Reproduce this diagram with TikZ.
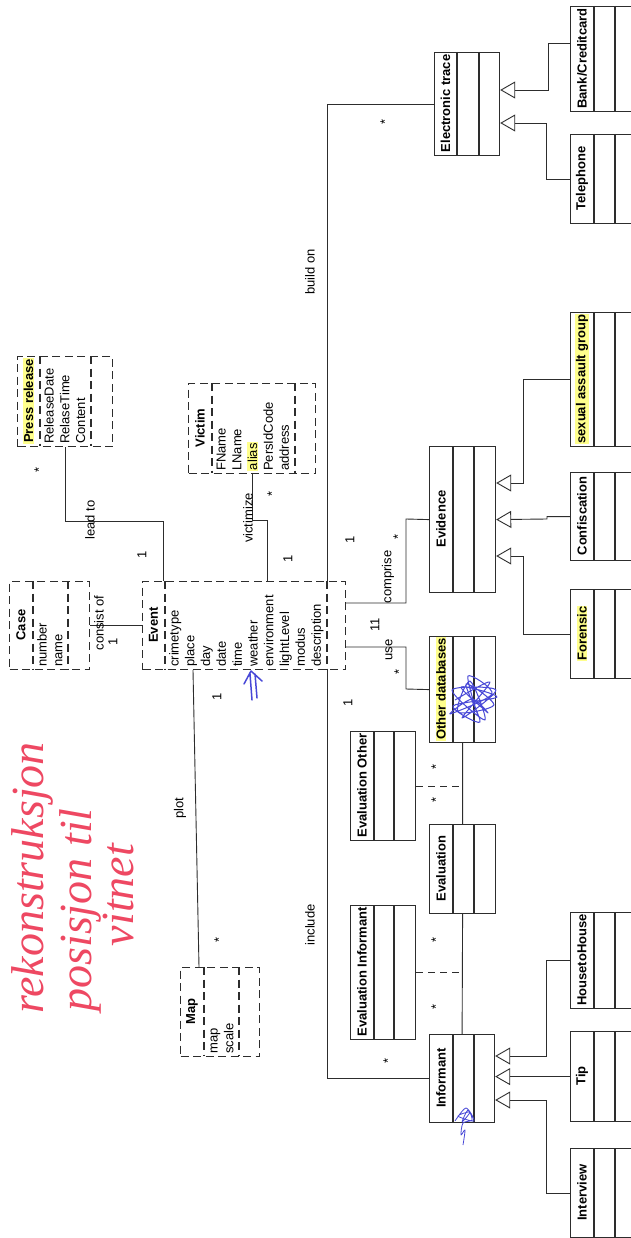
\documentclass[tikz,border=0pt]{standalone}
\usepackage{fontspec}
\setmainfont{Liberation Sans}
\newfontfamily\handfont{Liberation Serif}
\usetikzlibrary{arrows.meta,positioning}
\definecolor{lineg}{RGB}{45,45,45}
\definecolor{hl}{RGB}{255,255,140}
\definecolor{pen}{RGB}{238,72,98}
\definecolor{ink}{RGB}{72,72,215}
\setlength{\fboxsep}{0.8pt}

\begin{document}
\begin{tikzpicture}[
  x=1pt, y=-1pt,
  every node/.style={font=\fontsize{13}{15.8}\selectfont},
  cls/.style={draw=lineg, line width=1.2pt, inner sep=0, anchor=north west},
  dcls/.style={cls, dash pattern=on 8pt off 4.5pt},
  ttl/.style={rotate=90, inner sep=0.7pt, font=\fontsize{13}{15.8}\selectfont\bfseries},
  attr/.style={rotate=90, anchor=north west, inner sep=0, align=left},
  lbl/.style={rotate=90, inner sep=0},
  link/.style={draw=lineg, line width=0.9pt},
  isa/.style={link, -{Triangle[open, length=15pt, width=17pt]}},
]
\useasboundingbox (0,0) rectangle (631,1238);
\clip (0,0) rectangle (631,1238);
\fill[white] (0,0) rectangle (631,1238);

% dashed classes: name/left/top/right/bottom/head line/ops line/title/fill
\foreach \n/\xa/\ya/\xb/\yb/\xh/\xo/\t/\f in {
  case/9/581/89/669/33/68/Case/none,
  event/142/581/345/669/165/327/Event/none,
  press/17/356/112/446/40/91/Press release/hl,
  victim/188/383/315/473/212/295/Victim/none,
  map/180/967/259/1056/204/239/Map/none}
{
  \node[dcls, minimum width={(\xb-\xa)*1pt}, minimum height={(\yb-\ya)*1pt}] (\n) at (\xa,\ya) {};
  \draw[lineg, line width=1.2pt, dash pattern=on 8pt off 4.5pt]
    (\xh,\ya) -- (\xh,\yb) (\xo,\ya) -- (\xo,\yb);
  \node[ttl, fill=\f] (\n-t) at ({(\xa+\xh)/2},{(\ya+\yb)/2}) {\t};
}

% solid classes
\foreach \n/\xa/\ya/\xb/\yb/\xh/\xo/\t/\f in {
  etrace/434/52/499/155/457/479/Electronic trace/none,
  evidence/429/446/495/592/453/474/Evidence/none,
  otherdb/429/636/495/742/453/474/Other databases/hl,
  evaluation/429/824/495/913/453/474/Evaluation/none,
  informant/429/1034/494/1122/453/474/Informant/none,
  evalother/350/731/415/840/374/394/Evaluation Other/none,
  evalinf/350/905/415/1039/374/394/Evaluation Informant/none,
  bank/570/6/636/111/594/615/{Bank/Creditcard}/none,
  telephone/570/134/636/223/594/615/Telephone/none,
  sexual/570/312/636/446/594/615/sexual assault group/hl,
  confiscation/570/472/636/560/594/615/Confiscation/none,
  forensic/570/589/636/678/594/615/Forensic/hl,
  house/570/912/636/1008/594/615/HousetoHouse/none,
  tip/570/1031/636/1121/594/615/Tip/none,
  interview/570/1148/636/1237/594/615/Interview/none}
{
  \node[cls, minimum width={(\xb-\xa)*1pt}, minimum height={(\yb-\ya)*1pt}] (\n) at (\xa,\ya) {};
  \draw[lineg, line width=1.2pt] (\xh,\ya) -- (\xh,\yb) (\xo,\ya) -- (\xo,\yb);
  \node[ttl, fill=\f] (\n-t) at ({(\xa+\xh)/2},{(\ya+\yb)/2}) {\t};
}

% attribute lists
\foreach \n/\xh/\yb/\a in {
  case/33/669/{number\\name},
  event/165/669/{crimetype\\place\\day\\date\\time\\weather\\environment\\lightLevel\\modus\\description},
  press/40/446/{ReleaseDate\\RelaseTime\\Content},
  victim/212/473/{FName\\LName\\\colorbox{hl}{alias}\\PersIdCode\\address},
  map/204/1056/{map\\scale}}
  \node[attr] (\n-a) at (\xh+2.3,\yb-2) {\strut\a};

% associations
\draw[link] (case.east) -- (event.west);
\draw[link] (press.south -| 65,0) |- (163,521) -- (event.north -| 163,0);
\draw[link] (victim.south -| 252,0) |- (267,520) -- (event.north -| 267,0);
\draw[link] (etrace.west |- 0,104) -| (event.north -| 327,0);
\draw[link] (event.south -| 327,0) |- (informant.west);
\draw[link] (event.south -| 193,0) -- (map.north -| 199,0);
\draw[link] (event.east |- 0,603) -| (406,519) -- (evidence.west);
\draw[link] (event.east |- 0,647) -| (406,689) -- (otherdb.west);
\draw[link] (otherdb.south) -- (evaluation.north) (evaluation.south) -- (informant.north);
\draw[link, dash pattern=on 7pt off 5pt] (evalother.east) -- (evalother.east -| evaluation.north);
\draw[link, dash pattern=on 7pt off 5pt] (evalinf.east) -- (evalinf.east -| evaluation.north);

% generalisations
\draw[isa] (sexual.west) -| (523,483) -- (evidence.east |- 0,483);
\draw[isa] (confiscation.west) -| (547,519) -- (evidence.east);
\draw[isa] (forensic.west) -| (523,556) -- (evidence.east |- 0,556);
\draw[isa] (bank.west |- 0,43) -| (548,90) -- (etrace.east |- 0,90);
\draw[isa] (telephone.west) -| (546,123) -- (etrace.east |- 0,123);
\draw[isa] (house.west) -| (546,1056) -- (informant.east |- 0,1056);
\draw[isa] (tip.west) -- (informant.east |- tip.west);
\draw[isa] (interview.west) -| (546,1100) -- (informant.east |- 0,1100);

% role names and multiplicities
\foreach \n/\x/\y/\t in {
  consist/99/623/consist of, m1/113/642/1,
  leadto/90/520/lead to, m2/39/470/*, m3/142/555/1,
  victimize/248/518/victimize, m4/272/494/*, m5/288/559/1,
  buildon/310/272/build on, m6/385/122/*, m7/350/540/1,
  comprise/388/577/comprise, m8/398/537/*, m9/375/625/11,
  use/389/650/use, m10/399/672/*, m11/348/703/1,
  include/310/925/include, m12/388/1061/*,
  plot/180/808/plot, m13/217/697/1, m14/219/940/*,
  m15/436/767/*, m16/436/800/*, m17/436/940/*, m18/436/1007/*}
  \node[lbl] (\n) at (\x,\y) {\t};

% handwritten note
\begin{scope}[every node/.style={rotate=90, text=pen, inner sep=0,
    font=\handfont\itshape\fontsize{46}{46}\selectfont}]
  \node (note1) at (32,878) {rekonstruksjon};
  \node (note2) at (80,910) {posisjon til};
  \node (note3) at (118,895) {vitnet};
\end{scope}

% pen marks
\draw[ink, line width=1.5pt, line cap=round, line join=round]
  (252,700) -- (250,674) (257,698) -- (255,674) (244,684) -- (251,671) -- (262,681);
\draw[ink, line width=1pt, line join=round] plot[smooth] coordinates {
  (455,700) (490,682) (462,718) (496,690) (452,690) (485,720) (470,681) (458,712)
  (494,705) (466,684) (480,722) (453,706) (497,697) (461,687) (488,713) (472,699)
  (450,714) (492,694) (468,676) (478,716)};
\draw[ink, line width=0.8pt, line join=round] plot[smooth] coordinates {
  (455,1121) (466,1108) (474,1121) (458,1116) (470,1112) (462,1122) (468,1110) (472,1120)
  (463,1123) (461,1135) (465,1130) (463,1145)};
\end{tikzpicture}
\end{document}
